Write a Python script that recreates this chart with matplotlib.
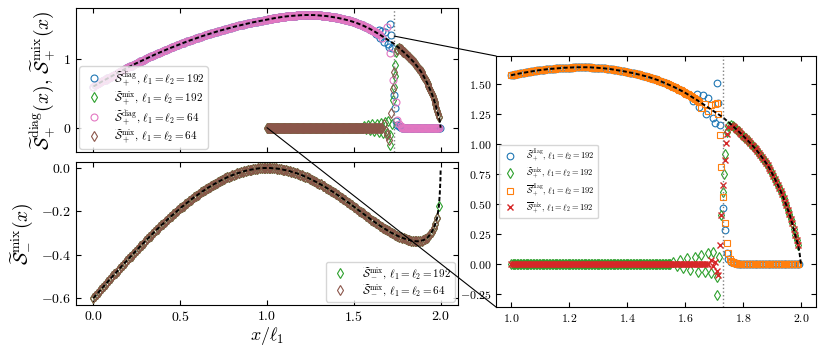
import numpy as np
import matplotlib
matplotlib.use('Agg')
import matplotlib.pyplot as plt
from matplotlib.patches import ConnectionPatch

plt.rcParams.update({
    'font.family': 'serif',
    'font.serif': ['cmr10'],
    'mathtext.fontset': 'cm',
    'axes.formatter.use_mathtext': True,
    'xtick.direction': 'in',
    'ytick.direction': 'in',
    'xtick.top': True,
    'ytick.right': True,
})

# sampling grid for S_+ : step 0.01 on [0, 1), step 0.005 on [1, 2]
x_plus = np.concatenate([np.round(np.arange(0.0, 0.995, 0.01), 3),
                         np.round(np.arange(1.0, 2.0001, 0.005), 3)])

s_plus = np.array([
    0.600, 0.615, 0.630, 0.645, 0.659, 0.674, 0.688, 0.702, 0.717, 0.731,
    0.745, 0.759, 0.772, 0.786, 0.800, 0.813, 0.827, 0.840, 0.853, 0.866,
    0.879, 0.892, 0.905, 0.917, 0.930, 0.942, 0.955, 0.967, 0.979, 0.991,
    1.003, 1.015, 1.026, 1.038, 1.049, 1.061, 1.072, 1.083, 1.094, 1.105,
    1.116, 1.127, 1.137, 1.148, 1.158, 1.169, 1.179, 1.189, 1.199, 1.209,
    1.219, 1.228, 1.238, 1.248, 1.257, 1.266, 1.275, 1.284, 1.293, 1.302,
    1.311, 1.320, 1.328, 1.337, 1.345, 1.353, 1.361, 1.369, 1.377, 1.385,
    1.393, 1.400, 1.408, 1.415, 1.423, 1.430, 1.437, 1.444, 1.451, 1.457,
    1.464, 1.471, 1.477, 1.483, 1.490, 1.496, 1.502, 1.508, 1.513, 1.519,
    1.525, 1.530, 1.536, 1.541, 1.546, 1.551, 1.556, 1.561, 1.566, 1.570,
    # x = 1.000 ... 2.000, step 0.005
    1.575, 1.578, 1.580, 1.583, 1.585, 1.588, 1.590, 1.593, 1.595, 1.597,
    1.599, 1.601, 1.603, 1.605, 1.607, 1.609, 1.611, 1.613, 1.615, 1.617,
    1.618, 1.620, 1.621, 1.623, 1.624, 1.626, 1.627, 1.628, 1.629, 1.630,
    1.631, 1.632, 1.633, 1.634, 1.635, 1.636, 1.637, 1.638, 1.638, 1.639,
    1.639, 1.640, 1.640, 1.641, 1.641, 1.642, 1.642, 1.642, 1.642, 1.642,
    1.642, 1.642, 1.642, 1.642, 1.641, 1.641, 1.640, 1.639, 1.638, 1.638,
    1.637, 1.636, 1.635, 1.634, 1.633, 1.632, 1.630, 1.629, 1.627, 1.626,
    1.624, 1.622, 1.620, 1.618, 1.616, 1.614, 1.612, 1.610, 1.608, 1.606,
    1.603, 1.601, 1.598, 1.596, 1.593, 1.591, 1.588, 1.585, 1.582, 1.579,
    1.576, 1.573, 1.570, 1.567, 1.563, 1.560, 1.556, 1.552, 1.548, 1.544,
    1.540, 1.536, 1.531, 1.527, 1.522, 1.517, 1.512, 1.507, 1.502, 1.497,
    1.491, 1.486, 1.480, 1.474, 1.468, 1.462, 1.456, 1.450, 1.443, 1.437,
    1.430, 1.423, 1.415, 1.408, 1.400, 1.393, 1.385, 1.378, 1.370, 1.363,
    1.355, 1.348, 1.340, 1.332, 1.324, 1.316, 1.308, 1.300, 1.292, 1.284,
    1.276, 1.268, 1.260, 1.252, 1.243, 1.234, 1.225, 1.215, 1.205, 1.195,
    1.184, 1.174, 1.163, 1.152, 1.141, 1.130, 1.119, 1.108, 1.096, 1.084,
    1.072, 1.060, 1.048, 1.036, 1.023, 1.010, 0.997, 0.984, 0.970, 0.956,
    0.941, 0.926, 0.910, 0.894, 0.877, 0.860, 0.842, 0.824, 0.805, 0.783,
    0.760, 0.737, 0.713, 0.688, 0.663, 0.637, 0.610, 0.581, 0.552, 0.521,
    0.490, 0.455, 0.420, 0.380, 0.340, 0.293, 0.245, 0.203, 0.160, 0.100,
    0.000,
])

# transitions near x = sqrt(3)
d192_tx = [1.629, 1.643, 1.649, 1.663, 1.672, 1.680, 1.698, 1.703, 1.711, 1.715,
           1.721, 1.732, 1.738, 1.744, 1.750]
d192_ty = [1.361, 1.417, 1.311, 1.408, 1.250, 1.389, 1.222, 1.178, 1.514, 1.344,
           1.164, 0.470, 0.283, 0.095, 0.045]
d192_tail = [0.02, 0.015, 0.01, 0.006, 0.003]

m192_tx = [1.560, 1.571, 1.583, 1.594, 1.606, 1.617, 1.634, 1.646, 1.657, 1.669,
           1.680, 1.690, 1.698, 1.709, 1.711, 1.718, 1.726, 1.732, 1.735, 1.738,
           1.744, 1.750]
m192_ty = [0.020, -0.020, 0.033, -0.035, 0.047, -0.050, 0.061, -0.064, 0.075, -0.070,
           0.089, -0.078, 0.103, -0.106, -0.258, 0.060, 0.410, 0.600, 0.750, 0.917,
           1.100, 1.150]

bd192_tx = [1.657, 1.669, 1.680, 1.690, 1.703, 1.709, 1.715, 1.721, 1.726, 1.732,
            1.738, 1.744, 1.750, 1.755]
bd192_ty = [1.300, 1.339, 1.280, 1.330, 1.339, 1.345, 1.256, 1.075, 0.811, 0.556,
            0.339, 0.172, 0.090, 0.040]
bd192_tail = [0.025, 0.018, 0.012, 0.007, 0.004]

bm192_tx = [1.690, 1.698, 1.703, 1.709, 1.715, 1.721, 1.726, 1.732, 1.738, 1.741,
            1.744, 1.750]
bm192_ty = [0.030, -0.020, 0.020, -0.060, -0.090, 0.158, 0.408, 0.658, 0.867, 1.014,
            1.089, 1.140]

d64_tx = [1.664, 1.693, 1.708, 1.725, 1.741, 1.750, 1.760]
d64_ty = [1.300, 1.470, 1.083, 0.694, 0.379, 0.110, 0.060]
d64_tail = [0.02, 0.01]

m64_tx = [1.672, 1.685, 1.693, 1.700, 1.712, 1.727, 1.734, 1.750]
m64_ty = [0.060, -0.050, -0.100, -0.180, 0.210, 0.570, 0.815, 1.130]

# S_-^mix on step 0.01 grid, x = 0 ... 1.99
x_minus = np.round(np.arange(0.0, 1.9901, 0.01), 2)
s_minus = np.array([
    -0.600, -0.591, -0.582, -0.573, -0.564, -0.555, -0.545, -0.536, -0.527, -0.518,
    -0.509, -0.500, -0.491, -0.483, -0.474, -0.465, -0.456, -0.447, -0.438, -0.430,
    -0.421, -0.412, -0.404, -0.395, -0.387, -0.378, -0.370, -0.361, -0.353, -0.345,
    -0.336, -0.328, -0.320, -0.312, -0.304, -0.296, -0.288, -0.280, -0.273, -0.265,
    -0.258, -0.250, -0.243, -0.235, -0.228, -0.221, -0.214, -0.207, -0.200, -0.193,
    -0.186, -0.179, -0.173, -0.166, -0.160, -0.154, -0.147, -0.141, -0.135, -0.130,
    -0.124, -0.118, -0.112, -0.107, -0.102, -0.096, -0.091, -0.086, -0.082, -0.077,
    -0.072, -0.068, -0.063, -0.059, -0.055, -0.051, -0.047, -0.043, -0.040, -0.036,
    -0.033, -0.030, -0.027, -0.024, -0.022, -0.019, -0.017, -0.014, -0.012, -0.010,
    -0.009, -0.007, -0.006, -0.004, -0.003, -0.002, -0.001, -0.001, -0.000, -0.000,
    # x = 1.00 ... 1.99
    0.000, -0.000, -0.000, -0.001, -0.001, -0.002, -0.003, -0.004, -0.006, -0.007,
    -0.009, -0.010, -0.012, -0.014, -0.017, -0.019, -0.022, -0.024, -0.027, -0.030,
    -0.033, -0.036, -0.040, -0.043, -0.047, -0.051, -0.055, -0.059, -0.063, -0.067,
    -0.072, -0.076, -0.081, -0.085, -0.090, -0.095, -0.100, -0.105, -0.110, -0.115,
    -0.121, -0.126, -0.132, -0.137, -0.143, -0.149, -0.155, -0.160, -0.166, -0.172,
    -0.178, -0.184, -0.190, -0.196, -0.202, -0.208, -0.214, -0.220, -0.226, -0.232,
    -0.238, -0.243, -0.249, -0.255, -0.260, -0.266, -0.271, -0.276, -0.281, -0.286,
    -0.291, -0.296, -0.300, -0.304, -0.308, -0.312, -0.316, -0.319, -0.322, -0.325,
    -0.328, -0.331, -0.333, -0.335, -0.336, -0.337, -0.338, -0.338, -0.337, -0.335,
    -0.333, -0.329, -0.324, -0.316, -0.306, -0.293, -0.278, -0.257, -0.230, -0.175,
])
minus_end_x = [1.995, 1.999, 2.0]
minus_end_y = [-0.12, -0.05, -0.01]

x_c = np.sqrt(3)
zoom_from = (x_c, 1.335)
zoom_low = (1.0, 0.0)


def sel(lo, hi):
    return (x_plus >= lo - 1e-9) & (x_plus <= hi + 1e-9)


def part(lo, hi):
    m = sel(lo, hi)
    return x_plus[m], s_plus[m]


def zeros_on(lo, hi):
    m = sel(lo, hi)
    return x_plus[m], np.zeros(m.sum())


def tail(lo, hi, start):
    xs, ys = zeros_on(lo, hi)
    ys[:len(start)] = start
    return xs, ys


def join(*parts):
    xs = np.concatenate([np.asarray(p[0], float) for p in parts])
    ys = np.concatenate([np.asarray(p[1], float) for p in parts])
    return xs, ys


diag192 = join(part(0, 1.61), (d192_tx, d192_ty), tail(1.76, 1.995, d192_tail))
mix192 = join(zeros_on(1.0, 1.55), (m192_tx, m192_ty), part(1.76, 1.99))
diag64 = join(part(0, 1.65), (d64_tx, d64_ty), tail(1.77, 1.99, d64_tail))
mix64 = join(zeros_on(1.0, 1.66), (m64_tx, m64_ty), part(1.76, 1.99))
bdiag192 = join(part(1.0, 1.65), (bd192_tx, bd192_ty), tail(1.76, 1.99, bd192_tail))
bmix192 = join(zeros_on(1.0, 1.68), (bm192_tx, bm192_ty), part(1.76, 1.99))
diag192_r = join(part(1.0, 1.61), (d192_tx, d192_ty), tail(1.76, 1.995, d192_tail))

St = r'\widetilde{\mathcal{S}}'
Sb = r'\overline{\mathcal{S}}'
ll = r', $\ell_1=\ell_2=$'

fig = plt.figure(figsize=(8.3, 3.48), dpi=100)
ax1 = fig.add_axes([0.0916, 0.5632, 0.4602, 0.4138])
ax2 = fig.add_axes([0.0916, 0.1236, 0.4602, 0.411], sharex=ax1)
ax3 = fig.add_axes([0.5976, 0.1178, 0.3855, 0.7213])

ms = 5
mew = 0.8


def mk(ax, xy, marker, color, label, size=ms):
    ax.plot(xy[0], xy[1], ls='none', marker=marker, mfc='none', mec=color,
            ms=size, mew=mew, label=label)


# top left
mk(ax1, diag192, 'o', 'C0', '$' + St + r'_+^{\rm diag}$' + ll + '192')
mk(ax1, mix192, 'd', 'C2', '$' + St + r'_+^{\rm mix}$' + ll + '192')
mk(ax1, diag64, 'o', 'C6', '$' + St + r'_+^{\rm diag}$' + ll + '64')
mk(ax1, mix64, 'd', 'C5', '$' + St + r'_+^{\rm mix}$' + ll + '64')
ax1.plot(x_plus, s_plus, color='k', ls='--', lw=1.4, dashes=(2.2, 1.2))
ax1.axvline(x_c, color='gray', ls=':', lw=1)
ax1.set_xlim(-0.1, 2.1)
ax1.set_ylim(-0.354, 1.744)
ax1.set_yticks([0, 1])
ax1.set_xticks([0, 0.5, 1.0, 1.5, 2.0])
ax1.tick_params(labelbottom=False, labelsize=10)
ax1.set_ylabel('$' + St + r'_{+}^{\rm diag}(x)$, $' + St + r'_{+}^{\rm mix}(x)$', fontsize=14)
ax1.legend(loc='lower left', fontsize=8, borderaxespad=0.3, handletextpad=0.8,
           labelspacing=0.15, borderpad=0.3)

# bottom left
mk(ax2, (x_minus, s_minus), 'd', 'C2', '$' + St + r'_-^{\rm mix}$' + ll + '192')
mk(ax2, (x_minus[:-1], s_minus[:-1]), 'd', 'C5', '$' + St + r'_-^{\rm mix}$' + ll + '64')
ax2.plot(np.append(x_minus, minus_end_x), np.append(s_minus, minus_end_y),
         color='k', ls='--', lw=1.4, dashes=(2.2, 1.2))
ax2.set_ylim(-0.632, 0.028)
ax2.set_yticks([-0.6, -0.4, -0.2, 0.0])
ax2.tick_params(labelsize=10)
ax2.set_xlabel(r'$x/\ell_1$', fontsize=13, labelpad=1)
ax2.set_ylabel('$' + St + r'_{-}^{\rm mix}(x)$', fontsize=14)
ax2.legend(loc='lower right', fontsize=8, borderaxespad=0.3, handletextpad=1.0,
           labelspacing=0.15, borderpad=0.3)

# right zoom panel
mk(ax3, diag192_r, 'o', 'C0', '$' + St + r'_+^{\rm diag}$' + ll + '192', 4.8)
mk(ax3, mix192, 'd', 'C2', '$' + St + r'_+^{\rm mix}$' + ll + '192', 4.8)
mk(ax3, bdiag192, 's', 'C1', '$' + Sb + r'_+^{\rm diag}$' + ll + '192', 4.8)
ax3.plot(bmix192[0], bmix192[1], ls='none', marker='x', color='C3', ms=4.8, mew=1,
         label='$' + Sb + r'_+^{\rm mix}$' + ll + '192')
xm, ym = part(1.0, 2.0)
ax3.plot(xm, ym, color='k', ls='--', lw=1.4, dashes=(2.2, 1.2))
ax3.axvline(x_c, color='gray', ls=':', lw=1)
ax3.set_xlim(0.948, 2.052)
ax3.set_ylim(-0.358, 1.736)
ax3.set_xticks([1.0, 1.2, 1.4, 1.6, 1.8, 2.0])
ax3.set_yticks([-0.25, 0.0, 0.25, 0.5, 0.75, 1.0, 1.25, 1.5])
ax3.tick_params(labelsize=8.5)
ax3.legend(loc='center left', fontsize=6, borderaxespad=0.3, handletextpad=1.0,
           labelspacing=0.2, borderpad=0.35)

# connectors from the top-left panel to the zoom panel
for pa, pb in [(zoom_from, (0, 1)), (zoom_low, (0, 0))]:
    con = ConnectionPatch(xyA=pa, coordsA=ax1.transData, xyB=pb, coordsB=ax3.transAxes,
                          color='k', lw=0.8)
    fig.add_artist(con)

fig.savefig('out.png', dpi=100)
